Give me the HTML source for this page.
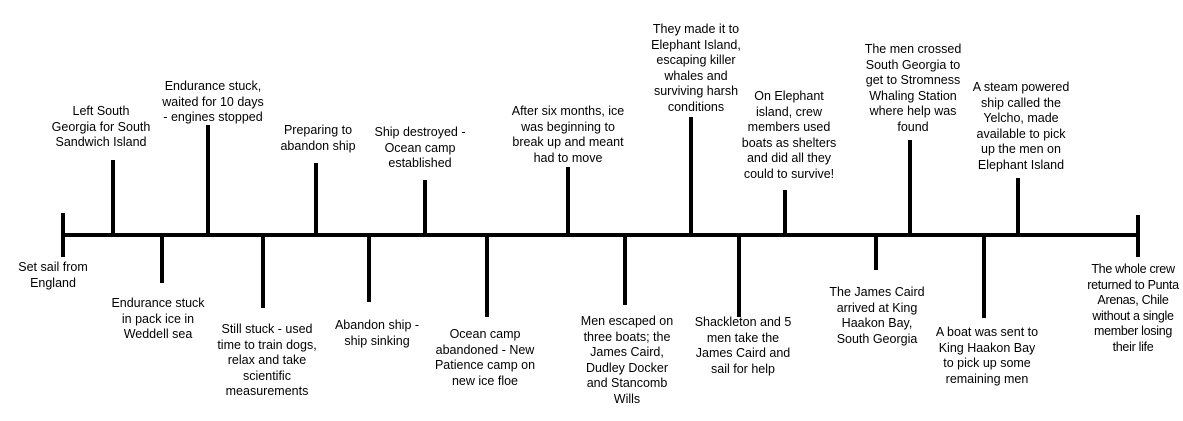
<!DOCTYPE html>
<html><head><meta charset="utf-8"><style>
body{margin:0;width:1183px;height:421px;background:#fff;position:relative;overflow:hidden;font-family:"Liberation Sans",Arial,sans-serif;}
.l{position:absolute;background:#000;}
.t{position:absolute;font-size:12.5px;line-height:15.5px;text-align:center;color:#000;white-space:nowrap;transform:translateX(-50%);}
</style></head><body>
<div class="l" style="left:62px;top:233px;width:1078px;height:4px"></div>
<div class="l" style="left:61px;top:213px;width:4px;height:44px"></div>
<div class="l" style="left:1136px;top:215px;width:4px;height:42px"></div>
<!-- up ticks -->
<div class="l" style="left:111px;top:160px;width:4px;height:75px"></div>
<div class="l" style="left:206px;top:125px;width:4px;height:110px"></div>
<div class="l" style="left:314px;top:163px;width:4px;height:72px"></div>
<div class="l" style="left:423px;top:180px;width:4px;height:55px"></div>
<div class="l" style="left:566px;top:167px;width:4px;height:68px"></div>
<div class="l" style="left:689px;top:117px;width:4px;height:118px"></div>
<div class="l" style="left:783px;top:190px;width:4px;height:45px"></div>
<div class="l" style="left:908px;top:140px;width:4px;height:95px"></div>
<div class="l" style="left:1016px;top:178px;width:4px;height:57px"></div>
<!-- down ticks -->
<div class="l" style="left:160px;top:235px;width:4px;height:48px"></div>
<div class="l" style="left:261px;top:235px;width:4px;height:73px"></div>
<div class="l" style="left:367px;top:235px;width:4px;height:67px"></div>
<div class="l" style="left:485px;top:235px;width:4px;height:82px"></div>
<div class="l" style="left:623px;top:235px;width:4px;height:70px"></div>
<div class="l" style="left:737px;top:235px;width:4px;height:82px"></div>
<div class="l" style="left:874px;top:235px;width:4px;height:35px"></div>
<div class="l" style="left:982px;top:235px;width:4px;height:83px"></div>

<div class="t" style="left:53px;top:260px">Set sail from<br>England</div>
<div class="t" style="left:101px;top:104px">Left South<br>Georgia for South<br>Sandwich Island</div>
<div class="t" style="left:158px;top:296px">Endurance stuck<br>in pack ice in<br>Weddell sea</div>
<div class="t" style="left:213px;top:79px">Endurance stuck,<br>waited for 10 days<br>- engines stopped</div>
<div class="t" style="left:267px;top:322px">Still stuck - used<br>time to train dogs,<br>relax and take<br>scientific<br>measurements</div>
<div class="t" style="left:318px;top:123px">Preparing to<br>abandon ship</div>
<div class="t" style="left:377px;top:318px">Abandon ship -<br>ship sinking</div>
<div class="t" style="left:420px;top:125px">Ship destroyed -<br>Ocean camp<br>established</div>
<div class="t" style="left:485px;top:327px">Ocean camp<br>abandoned - New<br>Patience camp on<br>new ice floe</div>
<div class="t" style="left:568px;top:104px">After six months, ice<br>was beginning to<br>break up and meant<br>had to move</div>
<div class="t" style="left:627px;top:314px">Men escaped on<br>three boats; the<br>James Caird,<br>Dudley Docker<br>and Stancomb<br>Wills</div>
<div class="t" style="left:696px;top:22px">They made it to<br>Elephant Island,<br>escaping killer<br>whales and<br>surviving harsh<br>conditions</div>
<div class="t" style="left:743px;top:315px">Shackleton and 5<br>men take the<br>James Caird and<br>sail for help</div>
<div class="t" style="left:789px;top:89px">On Elephant<br>island, crew<br>members used<br>boats as shelters<br>and did all they<br>could to survive!</div>
<div class="t" style="left:877px;top:285px">The James Caird<br>arrived at King<br>Haakon Bay,<br>South Georgia</div>
<div class="t" style="left:913px;top:42px">The men crossed<br>South Georgia to<br>get to Stromness<br>Whaling Station<br>where help was<br>found</div>
<div class="t" style="left:987px;top:325px">A boat was sent to<br>King Haakon Bay<br>to pick up some<br>remaining men</div>
<div class="t" style="left:1021px;top:80px">A steam powered<br>ship called the<br>Yelcho, made<br>available to pick<br>up the men on<br>Elephant Island</div>
<div class="t" style="left:1133px;top:262px;letter-spacing:-0.3px">The whole crew<br>returned to Punta<br>Arenas, Chile<br>without a single<br>member losing<br>their life</div>
</body></html>
